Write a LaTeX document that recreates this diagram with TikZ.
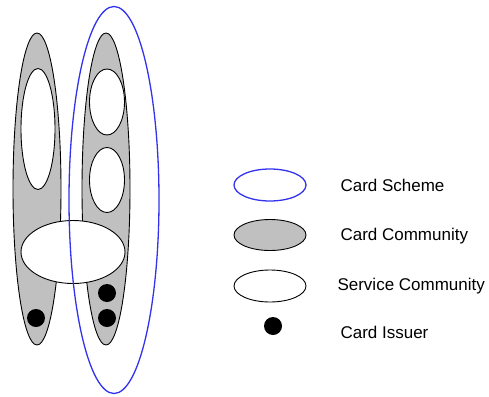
\documentclass[tikz,border=0pt]{standalone}
\usepackage{fontspec}
\setmainfont{Liberation Sans}
\usetikzlibrary{shapes.geometric}
\definecolor{SchemeBlue}{RGB}{51,51,238}
\definecolor{CommGray}{RGB}{192,192,192}

\begin{document}
\begin{tikzpicture}[x=1pt, y=-1pt,
  Oval/.style={ellipse, draw, line width=0.9pt, inner sep=0pt},
  Scheme/.style={Oval, draw=SchemeBlue, line width=1.3pt},
  Community/.style={Oval, fill=CommGray},
  Service/.style={Oval, fill=white},
  Issuer/.style={circle, fill=black, minimum size=18pt, inner sep=0pt},
  Legend/.style={anchor=west, font=\fontsize{17}{20}\selectfont}]
\useasboundingbox (0,0) rectangle (489,396);
% card communities with their service communities
\node[Community, minimum width=48pt, minimum height=312pt] (cc1) at (37,189) {};
\node[Community, minimum width=48pt, minimum height=312pt] (cc2) at (106,189) {};
\node[Service, minimum width=34pt, minimum height=121pt] (sc1) at (38,129) {};
\node[Service, minimum width=35pt, minimum height=66pt] (sc2) at (107,102) {};
\node[Service, minimum width=35pt, minimum height=65pt] (sc3) at (107,180) {};
\node[Service, minimum width=104pt, minimum height=63pt] (sc4) at (73,252) {};
% card scheme round the right community
\node[Scheme, minimum width=90pt, minimum height=387pt] (cs) at (114,200) {};
% card issuers
\node[Issuer] (ci1) at (36,318) {};
\node[Issuer] (ci2) at (107,293) {};
\node[Issuer] (ci3) at (107,318) {};
% legend
\node[Scheme, minimum width=72pt, minimum height=32pt] (k1) at (270,185) {};
\node[Community, minimum width=72pt, minimum height=31pt] (k2) at (270,235) {};
\node[Service, minimum width=72pt, minimum height=32pt] (k3) at (270,286) {};
\node[Issuer] (k4) at (273,326) {};
\node[Legend] (t1) at (337,185) {Card Scheme};
\node[Legend] (t2) at (337,236) {Card Community};
\node[Legend] (t3) at (334,286) {Service Community};
\node[Legend] (t4) at (337,332) {Card Issuer};
\end{tikzpicture}
\end{document}
